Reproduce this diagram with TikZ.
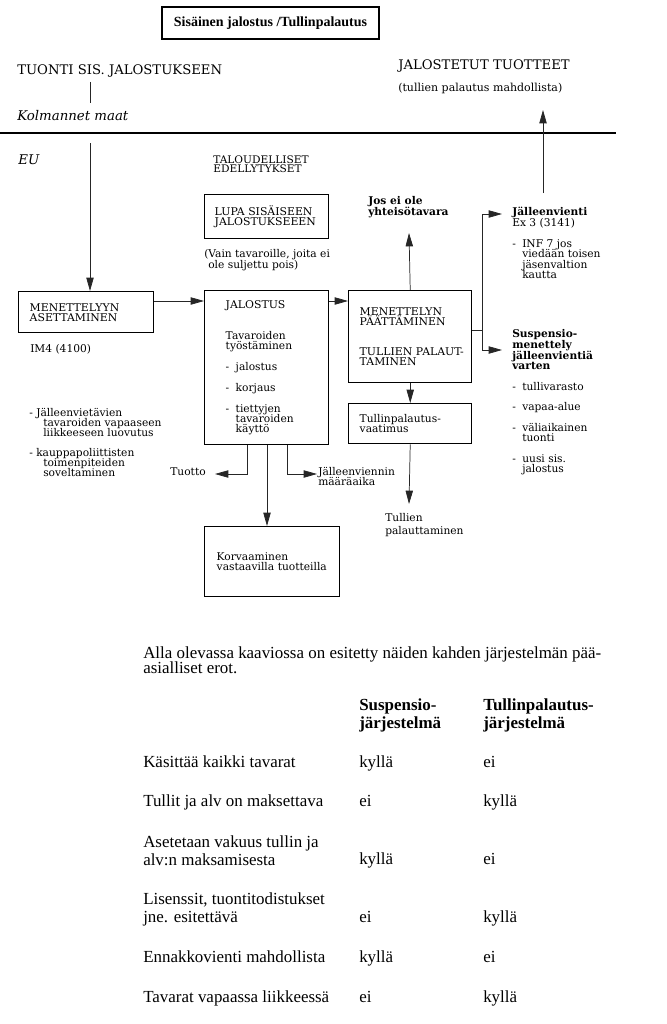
\documentclass[tikz,border=0pt]{standalone}
\usepackage{fontspec}
\setmainfont{DejaVu Serif}
\newfontfamily\kapit[FakeStretch=1.02]{DejaVu Serif}
\newfontfamily\tms{Liberation Serif}
\usetikzlibrary{arrows.meta}
\newcommand\tiivis{\lineskiplimit=-20pt\relax}
\newcommand\kfont{\fontsize{8}{7.5}\selectfont\tiivis}
\newcommand\kapfont{\kapit\fontsize{8}{7.5}\selectfont\tiivis}
\newcommand\kiso{\fontsize{9.9}{12}\selectfont}
\newcommand\tfont{\tms\fontsize{12.7}{13.5}\selectfont\tiivis}
\newcommand\viiva[1]{\makebox[7.5pt][l]{-}#1}
\newcommand\sisenna{\hspace*{7.5pt}}
\tikzset{
  laatikko/.style={draw, line width=1.1pt, anchor=north west, align=left, inner ysep=0pt, font=\kfont},
  teksti/.style={anchor=west, align=left, inner sep=0pt, font=\kfont},
  yhteys/.style={line width=0.55pt, black!85},
  nuoli/.style={yhteys, -{Triangle[length=10pt,width=5.5pt]}},
  taulu/.style={anchor=west, align=left, inner sep=0pt, font=\tfont},
  arvo/.style={anchor=base west, inner sep=0pt, font=\tfont}
}
\begin{document}
\begin{tikzpicture}[x=0.75pt,y=-0.75pt]
\useasboundingbox (0,0) rectangle (667,1024);
%\draw[help lines] (0,0) grid (667,1024);
\node[draw, line width=1.1pt, minimum width=162.75pt, minimum height=24pt, font=\tms\fontsize{10.5}{12}\selectfont\bfseries] (otsikko) at (270.5,23) {Sisäinen jalostus /Tullinpalautus};
\node[teksti, font=\kiso] (tuonti) at (17,71) {TUONTI SIS. JALOSTUKSEEN};
\node[teksti, font=\kiso] (jalostetut) at (398,66) {JALOSTETUT TUOTTEET};
\node[teksti, font=\fontsize{8.25}{9}\selectfont] (mahdollista) at (398,88) {(tullien palautus mahdollista)};
\node[teksti, font=\fontsize{10}{12}\selectfont\itshape] (kolmannet) at (17,116) {Kolmannet maat};
\draw[line width=1.1pt] (0,133) -- (616,133);
\node[teksti, font=\fontsize{10}{12}\selectfont\itshape] (eu) at (18,160) {EU};
\node[teksti, font=\kapit\fontsize{7.8}{6.6}\selectfont\tiivis] (taloudelliset) at (213,164.5) {TALOUDELLISET\\EDELLYTYKSET};
% laatikot
\node[laatikko, font=\kapfont, text width=78pt, inner xsep=7.5pt, minimum height=33pt] (lupa) at (204,194) {\mbox{LUPA SISÄISEEN}\\\mbox{JALOSTUKSEEEN}};
\node[teksti, font=\fontsize{8}{8.25}\selectfont\tiivis] (vain) at (204,260.5) {(Vain tavaroille, joita ei\\\hspace*{3pt}ole suljettu pois)};
\node[laatikko, font=\kapfont, text width=84.75pt, inner xsep=8.25pt, minimum height=30.75pt] (asetus) at (18,291) {MENETTELYYN\\ASETTAMINEN};
\node[teksti] (im4) at (30,349) {IM4 (4100)};
\node[laatikko, text width=61.5pt, inner xsep=15.75pt, minimum height=115.5pt] (jalostus) at (204,290) {{\kapit JALOSTUS}\\[15.75pt]Tavaroiden\\työstäminen\\[8.25pt]\viiva{jalostus}\\[8.25pt]\viiva{korjaus}\\[8.25pt]\viiva{tiettyjen}\\\sisenna tavaroiden\\\sisenna käyttö};
\node[laatikko, font=\kapfont, text width=75.75pt, inner xsep=8.25pt, minimum height=69pt] (paatos) at (348,290) {MENETTELYN\\PÄÄTTÄMINEN\\[15pt]\mbox{TULLIEN PALAUT-}\\TAMINEN};
\node[laatikko, text width=75.75pt, inner xsep=8.25pt, minimum height=30pt] (vaatimus) at (348,403) {Tullinpalautus-\\vaatimus};
\node[laatikko, text width=83.25pt, inner xsep=9pt, minimum height=52.5pt] (korvaus) at (204,526) {Korvaaminen\\vastaavilla tuotteilla};
% tekstit
\node[teksti] (vapautus) at (29,442) {- Jälleenvietävien\\\hspace*{10.5pt}tavaroiden vapaaseen\\\hspace*{10.5pt}liikkeeseen luovutus\\[7.5pt]- kauppapoliittisten\\\hspace*{10.5pt}toimenpiteiden\\\hspace*{10.5pt}soveltaminen};
\node[teksti, font=\fontsize{8}{8.25}\selectfont\bfseries\tiivis] (josei) at (368,207.5) {Jos ei ole\\yhteisötavara};
\node[teksti, font=\fontsize{8}{7.9}\selectfont\tiivis] (jvienti) at (512,243) {\textbf{Jälleenvienti}\\Ex 3 (3141)\\[7.9pt]\viiva{INF 7 jos}\\\sisenna viedään toisen\\\sisenna jäsenvaltion\\\sisenna kautta};
\node[teksti, font=\fontsize{8}{7.9}\selectfont\tiivis] (suspensio) at (512,402.5) {\textbf{Suspensio-}\\\textbf{menettely}\\\textbf{jälleenvientiä}\\\textbf{varten}\\[7.5pt]\viiva{tullivarasto}\\[7.5pt]\viiva{vapaa-alue}\\[7.5pt]\viiva{väliaikainen}\\\sisenna tuonti\\[7.5pt]\viiva{uusi sis.}\\\sisenna jalostus};
\node[teksti, anchor=east] (tuotto) at (206,472) {Tuotto};
\node[teksti] (maaraaika) at (318,476) {Jälleenviennin\\määräaika};
\node[teksti] (palautus) at (385,525) {Tullien\\[2.5pt]palauttaminen};
% yhteydet
\coordinate (t1) at (90,82);
\coordinate (t2) at (90,103);
\coordinate (t3) at (90,143);
\coordinate (y301) at (0,301);
\coordinate (josala) at (409,233);
\coordinate (haara) at (482,330);
\coordinate (haarayla) at (482,214);
\coordinate (haaraala) at (482,350);
\coordinate (ylos1) at (543,193);
\coordinate (ylos2) at (543,110);
\coordinate (palala) at (409,504);
\coordinate (tuottokulma) at (247,474);
\coordinate (maarakulma) at (287,474);
\coordinate (x267) at (267,0);
\draw[yhteys] (t1) -- (t2);
\draw[nuoli] (t3) -- (t3 |- asetus.north);
\draw[nuoli] (asetus.east |- y301) -- (jalostus.west |- y301);
\draw[nuoli] (jalostus.east |- y301) -- (paatos.west |- y301);
\draw[nuoli] (paatos.north |- josala) ++(0,57) -- (josala);
\draw[yhteys] (paatos.east |- haara) -- (haara);
\draw[yhteys] (haarayla) -- (haaraala);
\draw[nuoli] (haarayla) -- ++(20,0);
\draw[nuoli] (haaraala) -- ++(20,0);
\draw[nuoli] (ylos1) -- (ylos2);
\draw[nuoli] (paatos.south) -- (vaatimus.north);
\draw[nuoli] (vaatimus.south) -- (palala);
\draw[nuoli] (jalostus.south -| tuottokulma) -- (tuottokulma) -- ++(-32,0);
\draw[nuoli] (jalostus.south -| maarakulma) -- (maarakulma) -- ++(30,0);
\draw[nuoli] (jalostus.south -| x267) -- (korvaus.north -| x267);
% taulukko
\node[taulu, font=\tms\fontsize{12.7}{11.5}\selectfont\tiivis] (kappale) at (143,660.5) {Alla olevassa kaaviossa on esitetty näiden kahden järjestelmän pää-\\asialliset erot.};
\node[taulu, font=\tfont\bfseries] (otsake1) at (359,715.5) {Suspensio-\\järjestelmä};
\node[taulu, font=\tfont\bfseries] (otsake2) at (483,715.5) {Tullinpalautus-\\järjestelmä};
\node[arvo] (rivi1) at (143,767) {Käsittää kaikki tavarat};
\node[arvo] (s1) at (359,767) {kyllä};
\node[arvo] (p1) at (483,767) {ei};
\node[arvo] (rivi2) at (143,806) {Tullit ja alv on maksettava};
\node[arvo] (s2) at (359,806) {ei};
\node[arvo] (p2) at (483,806) {kyllä};
\node[taulu] (rivi3) at (143,851) {Asetetaan vakuus tullin ja\\alv:n maksamisesta};
\node[arvo] (s3) at (359,864) {kyllä};
\node[arvo] (p3) at (483,864) {ei};
\node[taulu] (rivi4) at (143,909) {Lisenssit, tuontitodistukset\\jne. esitettävä};
\node[arvo] (s4) at (359,922) {ei};
\node[arvo] (p4) at (483,922) {kyllä};
\node[arvo] (rivi5) at (143,962) {Ennakkovienti mahdollista};
\node[arvo] (s5) at (359,962) {kyllä};
\node[arvo] (p5) at (483,962) {ei};
\node[arvo] (rivi6) at (143,1002) {Tavarat vapaassa liikkeessä};
\node[arvo] (s6) at (359,1002) {ei};
\node[arvo] (p6) at (483,1002) {kyllä};
\end{tikzpicture}
\end{document}
